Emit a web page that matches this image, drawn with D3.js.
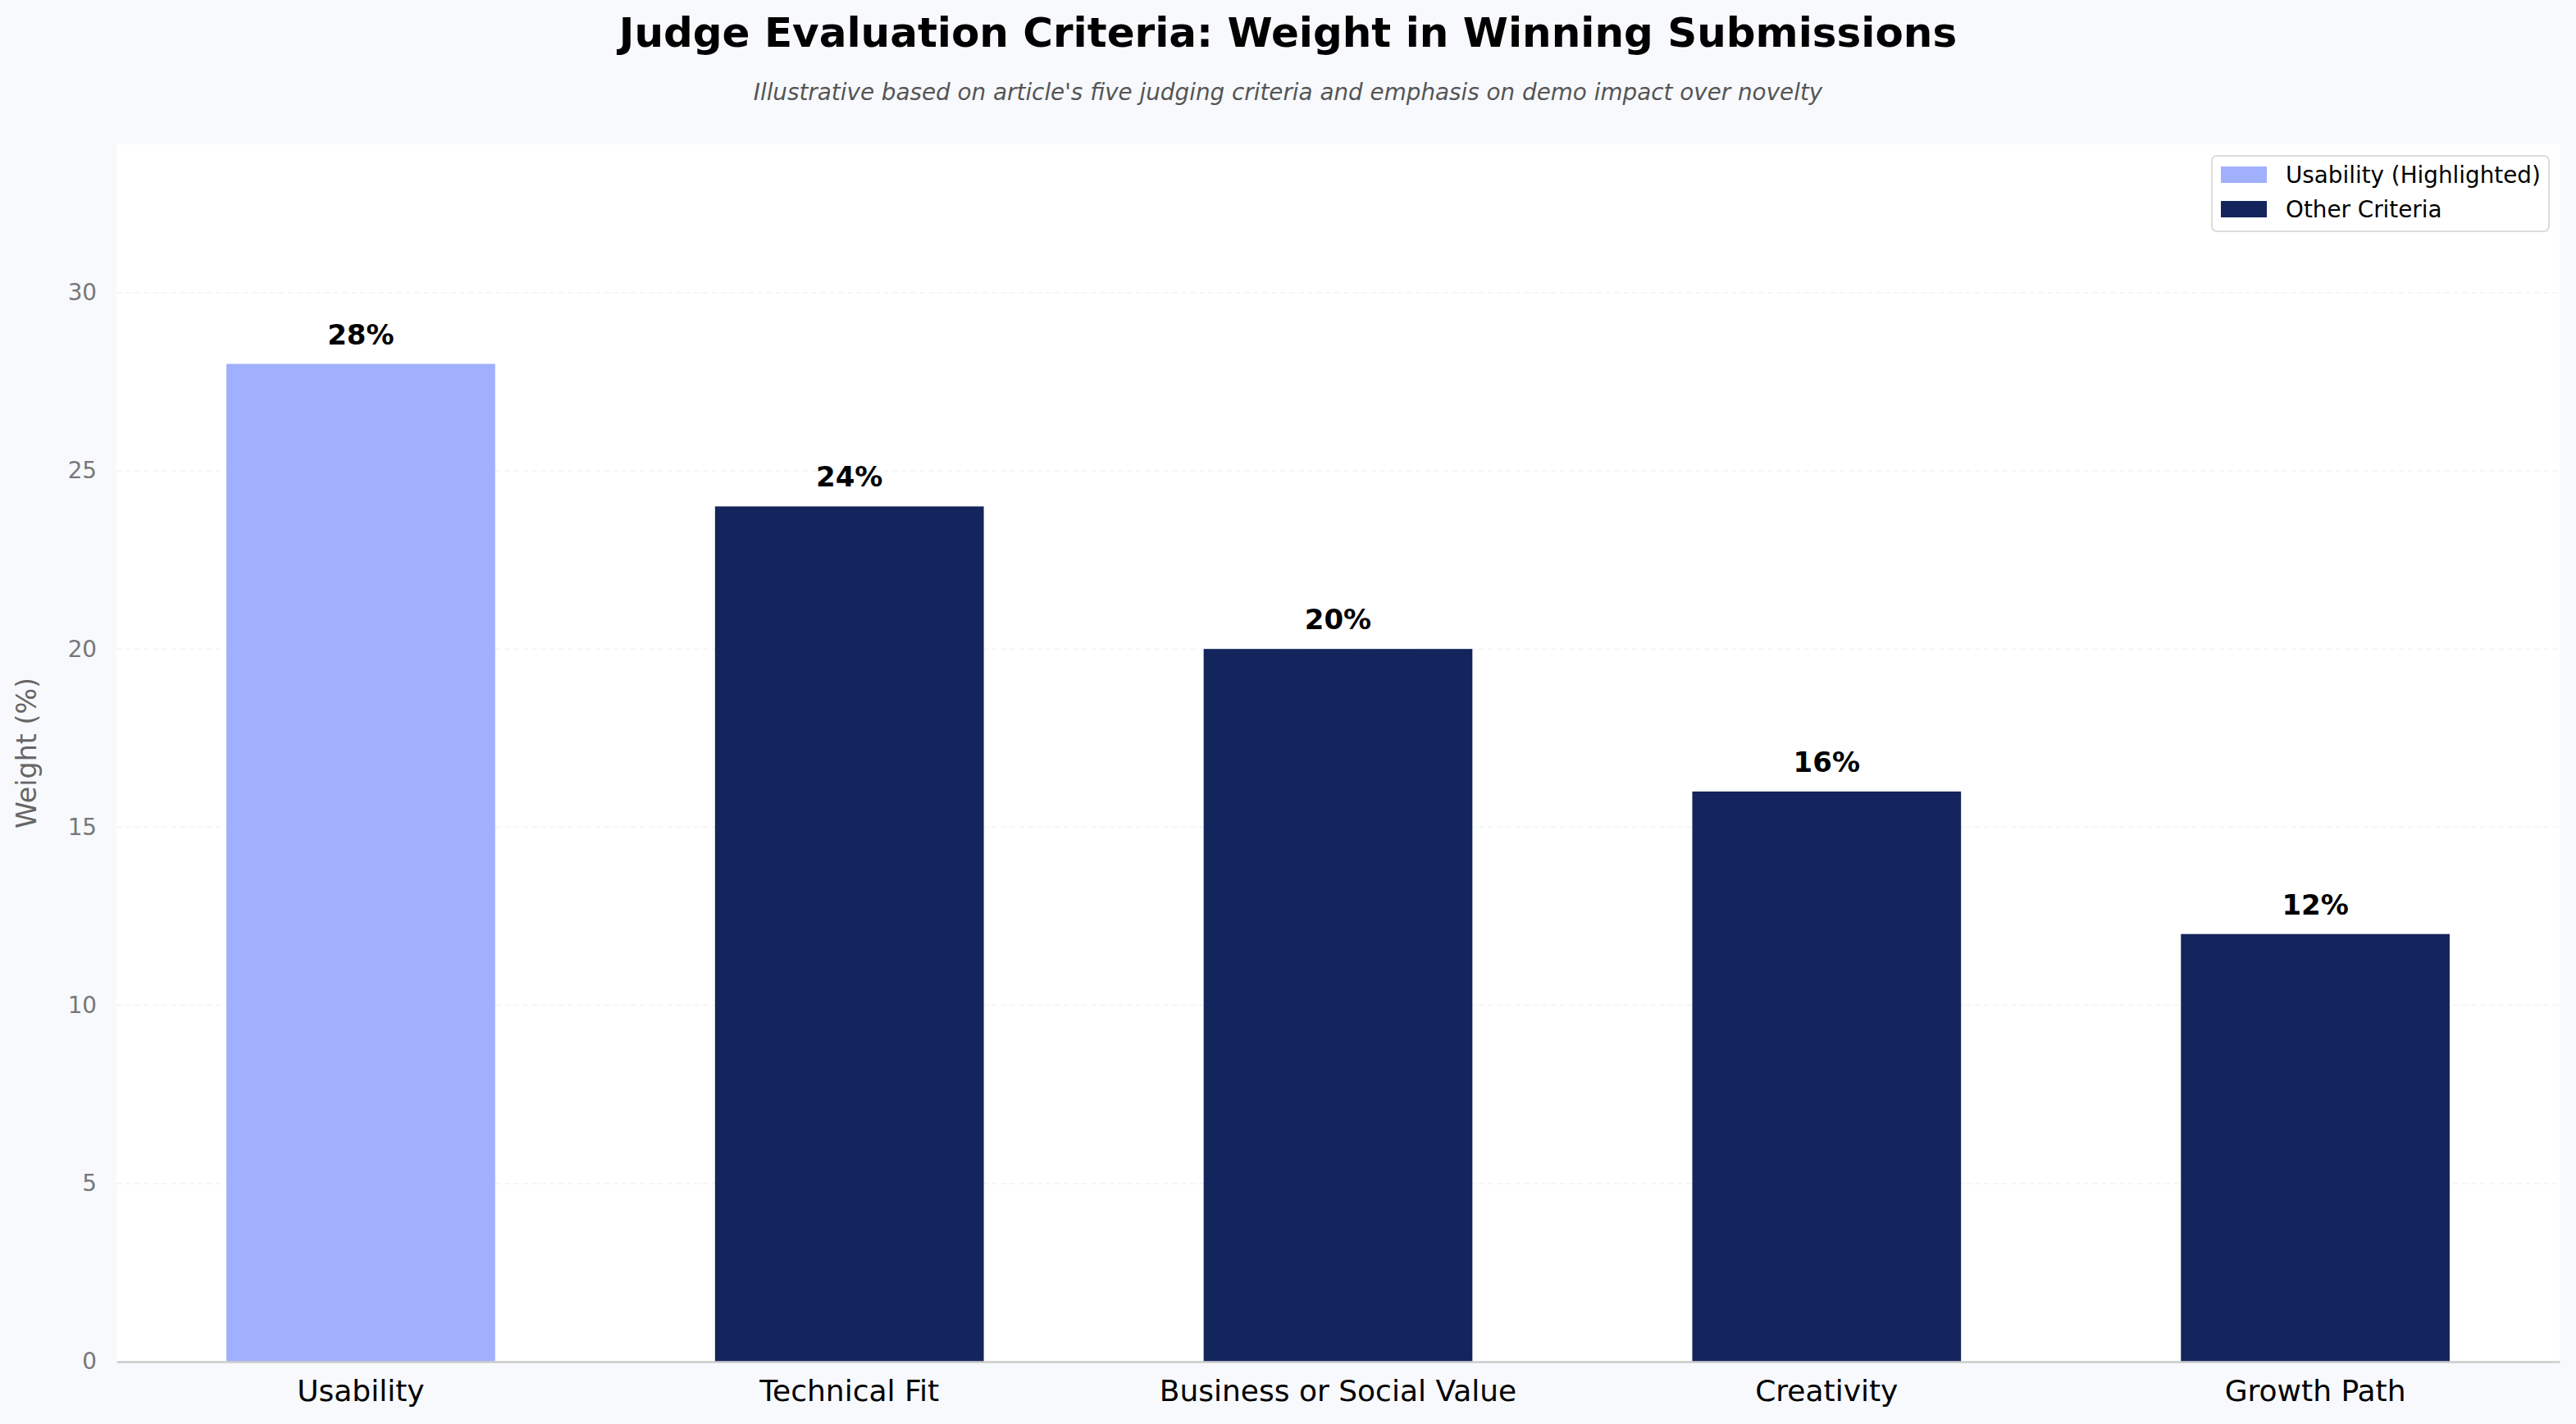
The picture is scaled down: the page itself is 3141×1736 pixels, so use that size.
<!DOCTYPE html>
<html>
<head>
<meta charset="utf-8">
<script src="https://cdn.jsdelivr.net/npm/d3@7"></script>
<style>
  html, body { margin: 0; padding: 0; background: #f7f9fc; }
  svg { display: block; font-family: "DejaVu Sans", sans-serif; }
</style>
</head>
<body>
<script>
  // Chart data
  const categories = ['Usability', 'Technical Fit', 'Business or Social Value', 'Creativity', 'Growth Path'];
  const weights = [28, 24, 20, 16, 12];
  const highlighted = ['Usability'];
  const yTicks = [0, 5, 10, 15, 20, 25, 30];
  const legendItems = ['Usability (Highlighted)', 'Other Criteria'];

  const colors = { highlight: '#a0b0fd', other: '#14245c' };

  const W = 3141, H = 1736;
  const margin = { top: 176, right: 20, bottom: 76, left: 142 };
  const width = W - margin.left - margin.right;
  const height = H - margin.top - margin.bottom;

  const svg = d3.select('body').append('svg')
    .attr('width', W)
    .attr('height', H);

  svg.append('rect').attr('width', W).attr('height', H).attr('fill', '#f7f9fc');

  // Title and subtitle
  svg.append('text')
    .attr('x', W / 2).attr('y', 57)
    .attr('text-anchor', 'middle')
    .attr('font-size', 50).attr('font-weight', 'bold').attr('fill', '#000')
    .text('Judge Evaluation Criteria: Weight in Winning Submissions');

  svg.append('text')
    .attr('x', W / 2).attr('y', 122)
    .attr('text-anchor', 'middle')
    .attr('font-size', 27.8).attr('font-style', 'italic').attr('fill', '#555')
    .text("Illustrative based on article's five judging criteria and emphasis on demo impact over novelty");

  const chart = svg.append('g')
    .attr('transform', `translate(${margin.left},${margin.top})`);

  chart.append('rect').attr('width', width).attr('height', height).attr('fill', '#fff');

  const x = d3.scaleBand()
    .domain(categories)
    .range([0, width])
    .paddingInner(0.45)
    .paddingOuter(0.225);

  const y = d3.scaleLinear()
    .domain([0, d3.max(weights) * 1.22])
    .range([height, 0]);

  // Grid lines
  chart.append('g')
    .selectAll('line')
    .data(yTicks.filter(d => d > 0))
    .join('line')
    .attr('x1', 0).attr('x2', width)
    .attr('y1', d => y(d)).attr('y2', d => y(d))
    .attr('stroke', '#f2f3f5')
    .attr('stroke-width', 1.5)
    .attr('stroke-dasharray', '7,4');

  // Bars
  const data = categories.map((c, i) => ({ cat: c, value: weights[i] }));

  chart.append('g')
    .selectAll('rect')
    .data(data)
    .join('rect')
    .attr('x', d => x(d.cat))
    .attr('y', d => y(d.value))
    .attr('width', x.bandwidth())
    .attr('height', d => y(0) - y(d.value))
    .attr('fill', d => highlighted.includes(d.cat) ? colors.highlight : colors.other);

  // Value labels
  chart.append('g')
    .selectAll('text')
    .data(data)
    .join('text')
    .attr('x', d => x(d.cat) + x.bandwidth() / 2)
    .attr('y', d => y(d.value) - 24)
    .attr('text-anchor', 'middle')
    .attr('font-size', 34).attr('font-weight', 'bold').attr('fill', '#000')
    .text(d => d.value + '%');

  // Y axis
  const yAxis = chart.append('g')
    .call(d3.axisLeft(y).tickValues(yTicks).tickSize(0).tickPadding(24));
  yAxis.select('.domain').remove();
  yAxis.selectAll('text')
    .attr('font-size', 27.8).attr('fill', '#777').attr('font-family', '"DejaVu Sans", sans-serif');

  // X axis
  const xAxis = chart.append('g')
    .attr('transform', `translate(0,${height})`)
    .call(d3.axisBottom(x).tickSize(0).tickPadding(22));
  xAxis.select('.domain').attr('stroke', '#cccccc').attr('stroke-width', 2.5);
  xAxis.selectAll('text')
    .attr('font-size', 36).attr('fill', '#000').attr('font-family', '"DejaVu Sans", sans-serif');

  // Y label
  svg.append('text')
    .attr('transform', `translate(44,${margin.top + height / 2}) rotate(-90)`)
    .attr('text-anchor', 'middle')
    .attr('font-size', 33.3).attr('fill', '#666')
    .text('Weight (%)');

  // Legend
  const legend = svg.append('g').attr('transform', 'translate(2697,190)');
  legend.append('rect')
    .attr('width', 411).attr('height', 92)
    .attr('rx', 6)
    .attr('fill', '#fff')
    .attr('stroke', '#dcdcdc').attr('stroke-width', 2);

  const legendRows = legend.selectAll('g.item')
    .data(legendItems)
    .join('g')
    .attr('class', 'item')
    .attr('transform', (d, i) => `translate(11,${13 + i * 42})`);

  legendRows.append('rect')
    .attr('width', 56).attr('height', 20)
    .attr('fill', (d, i) => i === 0 ? colors.highlight : colors.other);

  legendRows.append('text')
    .attr('x', 79).attr('y', 20)
    .attr('font-size', 27.8).attr('fill', '#000')
    .text(d => d);
</script>
</body>
</html>
